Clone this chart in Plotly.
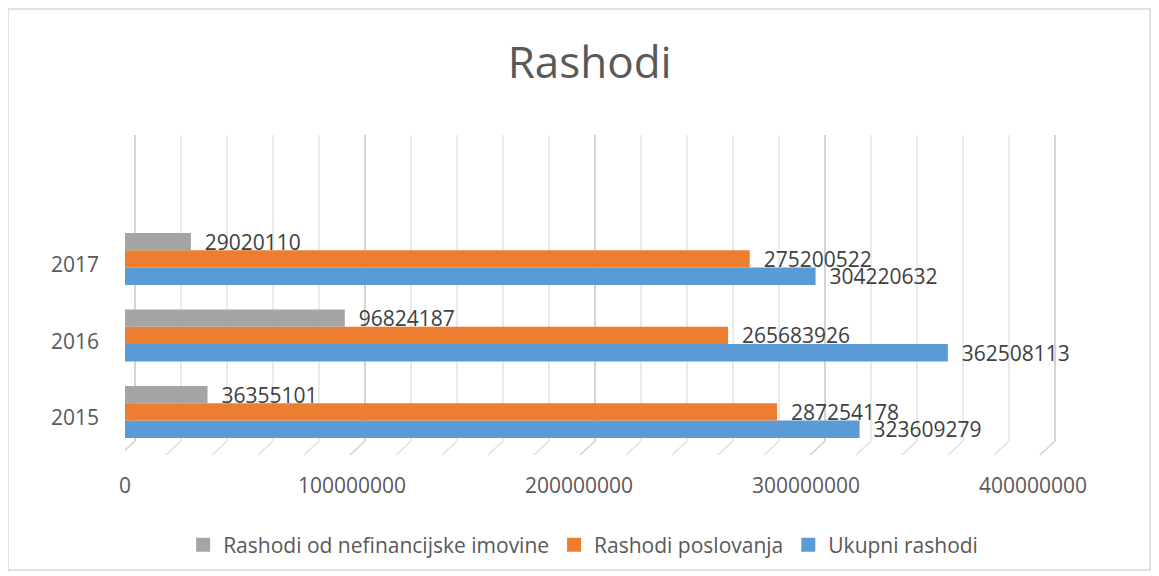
import plotly.graph_objects as go

years = ["2015", "2016", "2017"]
ukupni = [323609279, 362508113, 304220632]
poslovanja = [287254178, 265683926, 275200522]
nefinancijske = [36355101, 96824187, 29020110]
x_ticks = [0, 100000000, 200000000, 300000000, 400000000]
grid_step = 20000000

FONT = "Open Sans"
TXT = "#595959"

fig = go.Figure()
series = [
    ("Ukupni rashodi", ukupni, "#5B9BD5"),
    ("Rashodi poslovanja", poslovanja, "#ED7D31"),
    ("Rashodi od nefinancijske imovine", nefinancijske, "#A5A5A5"),
]
for name, vals, col in series:
    fig.add_trace(go.Bar(
        y=years, x=vals, name=name, orientation="h",
        marker=dict(color=col, line=dict(width=0)),
        text=["\u00a0\u00a0" + str(v) for v in vals],
        textposition="outside",
        constraintext="none",
        cliponaxis=False,
        textfont=dict(family=FONT, size=21, color="#404040"),
        showlegend=False,
    ))
# legend entries with square swatches
for name, vals, col in series:
    fig.add_trace(go.Scatter(
        x=[None], y=[None], mode="markers", name=name,
        marker=dict(symbol="square", size=14, color=col),
        showlegend=True,
    ))
# invisible trace to anchor the back-wall grid axis
fig.add_trace(go.Scatter(x=[None], y=[None], xaxis="x2", yaxis="y",
                         mode="markers", showlegend=False, hoverinfo="skip"))

PLOT_W = 935.0
PX_FRONT = 227.0 / 1e8   # px per unit on front (labels, bars)
PX_BACK = 230.0 / 1e8    # px per unit on back wall (grid)
BACK_OFF = 10.0          # back wall shifted right by this many px

floor_shapes = []
grid_vals = list(range(0, x_ticks[-1] + 1, grid_step))
for v in grid_vals:
    floor_shapes.append(dict(
        type="line", xref="x2", yref="paper",
        x0=v, y0=0, x1=v - 15 / PX_BACK, y1=-14 / 306,
        line=dict(color="#e0e0e0" if v % x_ticks[1] else "#d0d0d0", width=1.5),
        layer="below"))

fig.update_layout(
    width=1151, height=568,
    paper_bgcolor="white", plot_bgcolor="white",
    margin=dict(l=117, r=99, t=127, b=135, autoexpand=False),
    barmode="group", bargap=0.32, bargroupgap=0,
    title=dict(text="Rashodi", x=0.497, xanchor="center", xref="paper",
               y=0.904, yanchor="middle",
               font=dict(family=FONT, size=44, color=TXT)),
    font=dict(family=FONT, color=TXT),
    showlegend=True,
    legend=dict(orientation="h", traceorder="reversed",
                x=0.49, xanchor="center", y=-0.34, yanchor="middle",
                font=dict(family=FONT, size=21, color=TXT),
                itemwidth=30),
    xaxis=dict(range=[0, PLOT_W / PX_FRONT], tickvals=x_ticks,
               ticktext=[str(v) for v in x_ticks],
               automargin=False, showgrid=False,
               zeroline=False, showline=False,
               ticklabelstandoff=30,
               tickfont=dict(family=FONT, size=21, color=TXT)),
    xaxis2=dict(overlaying="x", side="bottom",
                range=[-BACK_OFF / PX_BACK, (PLOT_W - BACK_OFF) / PX_BACK],
                tickvals=x_ticks, showticklabels=False, ticks="",
                automargin=False,
                showgrid=True, gridcolor="#d4d4d4", gridwidth=1.5,
                minor=dict(dtick=grid_step, showgrid=True, gridcolor="#ebebeb",
                           gridwidth=1.5),
                zeroline=False, showline=False),
    yaxis=dict(type="category", range=[-0.38, 3.62],
               automargin=False,
               showgrid=False, zeroline=False, showline=False,
               ticklabelstandoff=25, ticklabelshift=6,
               tickfont=dict(family=FONT, size=21, color=TXT)),
    shapes=[dict(type="rect", xref="paper", yref="paper",
                 x0=-117 / PLOT_W, x1=1025 / PLOT_W, y0=-129 / 306, y1=432 / 306,
                 line=dict(color="#d9d9d9", width=1.5), fillcolor="rgba(0,0,0,0)",
                 layer="below")] + floor_shapes,
)

fig.write_html("out.html")
